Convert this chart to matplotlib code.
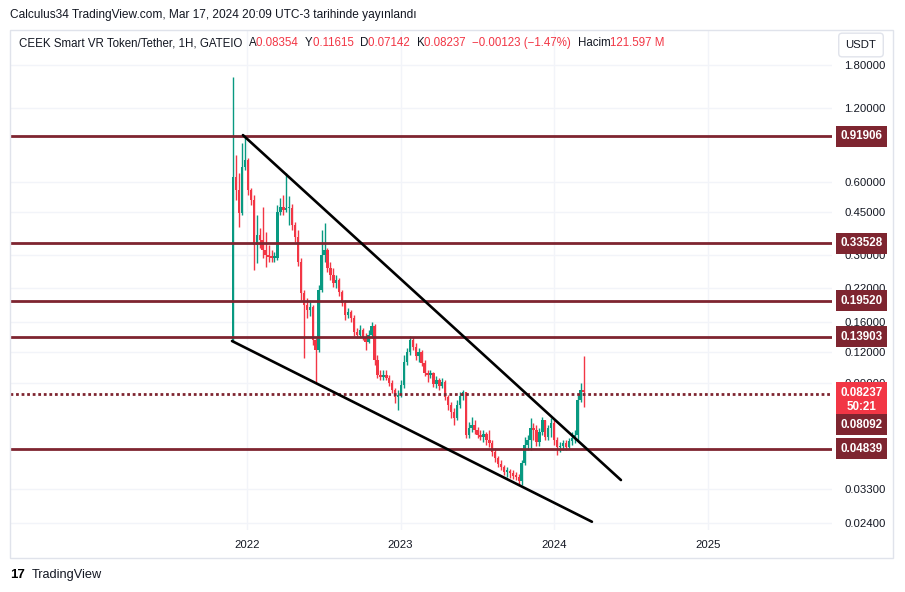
import numpy as np
import pandas as pd
import matplotlib
matplotlib.use("Agg")
import matplotlib.pyplot as plt
import matplotlib.dates as mdates
from matplotlib.ticker import NullLocator
from matplotlib.transforms import blended_transform_factory
from matplotlib.patches import Rectangle

plt.rcParams['font.family'] = ['Liberation Sans', 'DejaVu Sans']

# weekly candles, CEEK/USDT
week_start = "2021-11-29"
first_open = 0.1348
closes = [0.626, 0.554, 0.446, 0.688, 0.735, 0.554, 0.504, 0.330, 0.363, 0.346,
          0.315, 0.300, 0.295, 0.292, 0.292, 0.450, 0.472, 0.459, 0.467, 0.467,
          0.398, 0.356, 0.281, 0.210, 0.1875, 0.1788, 0.184, 0.1348, 0.1227, 0.2159,
          0.300, 0.315, 0.2657, 0.2487, 0.2306, 0.2372, 0.2119, 0.191, 0.1706, 0.1755,
          0.1658, 0.1453, 0.1413, 0.1481, 0.1386, 0.1323, 0.1413, 0.1538, 0.1116, 0.0969,
          0.0951, 0.0969, 0.0942, 0.0898, 0.0841, 0.0787, 0.0802, 0.0882, 0.1095, 0.1204,
          0.1348, 0.1262, 0.116, 0.1204, 0.1085, 0.0988, 0.0969, 0.0988, 0.089, 0.0924,
          0.0873, 0.0907, 0.0787, 0.0731, 0.0684, 0.0646, 0.0731, 0.0795, 0.0825, 0.0550,
          0.0588, 0.0605, 0.0577, 0.0550, 0.0540, 0.0556, 0.0525, 0.0510, 0.0469, 0.0443,
          0.0419, 0.0407, 0.0389, 0.0392, 0.0383, 0.0374, 0.0371, 0.0357, 0.0423, 0.0501,
          0.0525, 0.0588, 0.0577, 0.0515, 0.0566, 0.0634, 0.0540, 0.0588, 0.0616, 0.0525,
          0.0491, 0.0495, 0.0510, 0.0491, 0.0520, 0.0535, 0.0550, 0.0766, 0.0841, 0.08237]
highs = [1.607, 0.771, 0.650, 0.863, 0.913, 0.749, 0.565, 0.529, 0.438, 0.387,
         0.472, 0.373, 0.330, 0.315, 0.309, 0.481, 0.514, 0.529, 0.650, 0.524,
         0.485, 0.410, 0.380, 0.292, 0.2159, 0.2002, 0.1965, 0.1875, 0.1373, 0.2263,
         0.380, 0.406, 0.321, 0.281, 0.2657, 0.2487, 0.2418, 0.2159, 0.1965, 0.1822,
         0.1788, 0.1706, 0.1509, 0.1552, 0.1509, 0.144, 0.1481, 0.1597, 0.1567, 0.1171,
         0.1016, 0.1016, 0.1016, 0.0969, 0.0924, 0.0857, 0.0841, 0.0924, 0.1171, 0.125,
         0.140, 0.1386, 0.131, 0.125, 0.1227, 0.1116, 0.1016, 0.1016, 0.0997, 0.096,
         0.0942, 0.0942, 0.0924, 0.0802, 0.0752, 0.0710, 0.0766, 0.0825, 0.0841, 0.0825,
         0.0622, 0.0652, 0.0634, 0.0593, 0.0577, 0.0577, 0.0566, 0.0577, 0.0525, 0.0487,
         0.0452, 0.0435, 0.0415, 0.0407, 0.0400, 0.0396, 0.0389, 0.0381, 0.0435, 0.0540,
         0.0550, 0.0646, 0.0616, 0.0605, 0.0588, 0.0652, 0.0634, 0.0605, 0.0646, 0.0634,
         0.0540, 0.0515, 0.0525, 0.0525, 0.0535, 0.0566, 0.0577, 0.0802, 0.0898, 0.11615]
lows = [0.1323, 0.504, 0.391, 0.438, 0.669, 0.529, 0.481, 0.2607, 0.2785, 0.321,
        0.292, 0.268, 0.2811, 0.281, 0.281, 0.2865, 0.438, 0.438, 0.450, 0.398,
        0.380, 0.3395, 0.2707, 0.1965, 0.1138, 0.1658, 0.169, 0.1286, 0.0898, 0.1204,
        0.2119, 0.281, 0.2558, 0.2372, 0.222, 0.220, 0.204, 0.1857, 0.1627, 0.1658,
        0.1597, 0.140, 0.1373, 0.1386, 0.1348, 0.1227, 0.131, 0.1373, 0.1065, 0.0942,
        0.0924, 0.0924, 0.0924, 0.0873, 0.0818, 0.0745, 0.0697, 0.0787, 0.0857, 0.1065,
        0.1171, 0.1227, 0.1116, 0.1095, 0.1055, 0.096, 0.0907, 0.0942, 0.0865, 0.0857,
        0.0841, 0.0857, 0.0766, 0.0697, 0.0646, 0.0605, 0.0634, 0.0710, 0.0766, 0.0535,
        0.0535, 0.0566, 0.0556, 0.0535, 0.0525, 0.0515, 0.0501, 0.0491, 0.0452, 0.0427,
        0.0407, 0.0396, 0.0378, 0.0371, 0.0368, 0.0364, 0.0360, 0.0343, 0.0343, 0.0415,
        0.0478, 0.0478, 0.0525, 0.0496, 0.0496, 0.0550, 0.0525, 0.0525, 0.0540, 0.0501,
        0.0456, 0.0469, 0.0478, 0.0478, 0.0482, 0.0501, 0.0510, 0.0525, 0.0752, 0.07142]

levels = [0.91906, 0.33528, 0.19520, 0.13903, 0.04839]
dotted_level = 0.08092
last_price = 0.08237
countdown = "50:21"
price_ticks = [1.8, 1.2, 0.6, 0.45, 0.3, 0.22, 0.16, 0.12, 0.09, 0.033, 0.024]
years = ["2022", "2023", "2024", "2025"]
upper_line = (["2021-12-22", "2024-06-08"], [0.93, 0.0360])
lower_line = (["2021-11-26", "2024-03-31"], [0.1335, 0.0243])

GREEN = "#089981"
RED = "#f23645"
MAROON = "#7e2530"
TXT = "#131722"
GRID = "#f2f4f9"

W, H = 905, 592
fig = plt.figure(figsize=(W / 100, H / 100), dpi=100)
fig.patch.set_facecolor("white")
ax = fig.add_axes([10 / W, 1 - 530 / H, 822 / W, 500 / H])
ax.set_yscale("log")
ax.set_ylim(0.02248, 2.504)
ax.set_xlim(mdates.date2num(pd.Timestamp("2020-06-16")), mdates.date2num(pd.Timestamp("2025-10-23")))
for s in ax.spines.values():
    s.set_visible(False)

# candles
dates = pd.date_range(week_start, periods=len(closes), freq="7D")
x = mdates.date2num(dates)
c = np.array(closes)
o = np.array([first_open] + closes[:-1])
cols = np.where(c >= o, GREEN, RED)
bottom = np.minimum(o, c)
height = np.maximum(np.abs(c - o), bottom * 0.015)
ax.vlines(x, lows, highs, colors=cols, lw=1.0, zorder=3)
ax.bar(x, height, bottom=bottom, width=5.8, color=cols, linewidth=0, zorder=3)

# levels and trendlines
for lv in levels:
    ax.axhline(lv, color=MAROON, lw=2.0, zorder=4)
ax.axhline(dotted_level, color=MAROON, lw=2.0, ls=(0, (1, 1)), zorder=4)
for d, p in (upper_line, lower_line):
    ax.plot(mdates.date2num(pd.to_datetime(d)), p, color="black", lw=1.9,
            solid_capstyle="round", zorder=5)

# axes / grid
ax.grid(True, color=GRID, lw=1, zorder=0)
ax.set_axisbelow(True)
ax.yaxis.tick_right()
ax.set_yticks(price_ticks)
ax.set_yticklabels([f"{p:.5f}" for p in price_ticks])
ax.yaxis.set_minor_locator(NullLocator())
ax.set_xticks([mdates.date2num(pd.Timestamp(f"{y}-01-01")) for y in years])
ax.set_xticklabels(years)
ax.tick_params(axis="y", length=0, pad=9, labelsize=8.2, labelcolor=TXT)
ax.tick_params(axis="x", length=0, pad=7, labelsize=8.2, labelcolor=TXT)

# price tags on the scale
trans = blended_transform_factory(ax.transAxes, ax.transData)


def price_tag(y, text, fc, dy=0):
    ax.annotate(text, xy=(1.0355, y), xycoords=trans, xytext=(0, dy), textcoords="offset points",
                ha="center", va="center", color="white", fontsize=8.4, fontweight="bold",
                linespacing=1.25, bbox=dict(boxstyle="square,pad=0.38", fc=fc, ec="none"),
                annotation_clip=False, zorder=10)


for lv in levels:
    price_tag(lv, f"{lv:.5f}", MAROON)
price_tag(last_price, f"{last_price:.5f}\n{countdown}", RED, dy=-5.5)
price_tag(dotted_level, f"{dotted_level:.5f}", MAROON, dy=-22)

# frame, header, legend
fig.add_artist(Rectangle((10 / W, 1 - 558 / H), 883 / W, 528 / H, transform=fig.transFigure,
                         fill=False, ec="#e0e3eb", lw=1))
fig.text(10 / W, 1 - 15 / H, "Calculus34 TradingView.com, Mar 17, 2024 20:09 UTC-3 tarihinde yayınlandı",
         fontsize=8.6, color=TXT, va="center")
fig.text(861 / W, 1 - 45 / H, "USDT", fontsize=8.2, color=TXT, ha="center", va="center",
         bbox=dict(boxstyle="round,pad=0.6,rounding_size=0.3", fc="white", ec="#e0e3eb"))

renderer = fig.canvas.get_renderer()
pieces = [("CEEK Smart VR Token/Tether, 1H, GATEIO  ", TXT), ("A", TXT), ("0.08354  ", RED),
          ("Y", TXT), ("0.11615  ", RED), ("D", TXT), ("0.07142  ", RED), ("K", TXT),
          ("0.08237  ", RED), ("\u22120.00123 (\u22121.47%)  ", RED), ("Hacim", TXT), ("121.597 M", RED)]
xp = 19
for s, col in pieces:
    t = fig.text(xp / W, 1 - 43 / H, s, fontsize=8.3, color=col, va="center")
    xp += t.get_window_extent(renderer).width

fig.text(10 / W, 1 - 575 / H, "17", fontsize=9.5, fontweight="bold", color="black", va="center")
fig.text(32 / W, 1 - 575 / H, "TradingView", fontsize=9.2, color=TXT, va="center")

fig.savefig("out.png", dpi=100, facecolor="white")
